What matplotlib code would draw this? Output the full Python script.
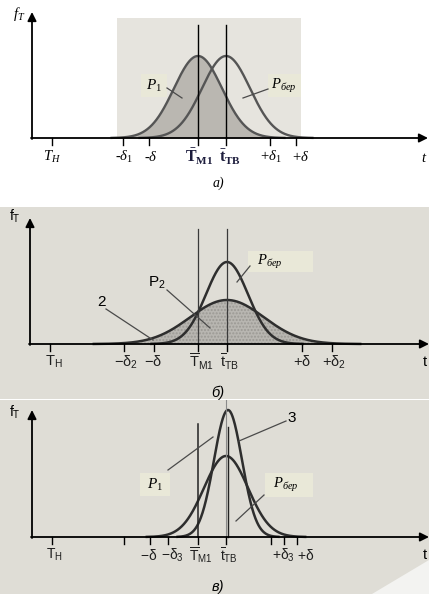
import numpy as np
import matplotlib.pyplot as plt
from matplotlib.patches import Rectangle, Polygon

plt.rcParams['mathtext.fontset'] = 'custom'
plt.rcParams['mathtext.rm'] = 'Liberation Serif'
plt.rcParams['mathtext.it'] = 'Liberation Serif:italic'
plt.rcParams['mathtext.bf'] = 'Liberation Serif:bold'

W, H = 429, 594

# --- panel a: shift of the distribution, same spread
a_ticks = [52, 123, 149, 198, 226, 270, 296]
a_labels = [r'$T_H$', r'-$\delta_1$', r'-$\delta$', r'$\mathbf{\bar{T}_{M1}}$',
            r'$\mathbf{\bar{t}_{TB}}$', r'+$\delta_1$', r'+$\delta$']
a_label_x = [52, 124, 151, 199, 230, 271, 301]
a_means = [198, 226]      # P1, P_бер
a_sigmas = [24, 24]
a_peaks = [82, 82]

# --- panel b: wider spread
b_ticks = [50, 124, 154, 198, 227, 302, 332]
b_labels = [r'$\mathregular{T_H}$', r'$\mathregular{-\delta_2}$', r'$\mathregular{-\delta}$',
            r'$\mathregular{\overline{T}_{M1}}$', r'$\mathregular{\overline{t}_{TB}}$',
            r'$\mathregular{+\delta}$', r'$\mathregular{+\delta_2}$']
b_label_x = [54, 126, 153, 201, 229, 302, 334]
b_means = [227, 227]      # P_бер, P2
b_sigmas = [21, 37]
b_peaks = [82, 44]

# --- panel c: narrower spread
c_ticks = [52, 124, 150, 168, 198, 226, 271, 284, 297]
c_labels = [r'$\mathregular{T_H}$', r'$\mathregular{-\delta}$', r'$\mathregular{-\delta_3}$',
            r'$\mathregular{\overline{T}_{M1}}$', r'$\mathregular{\overline{t}_{TB}}$',
            r'$\mathregular{+\delta_3}$', r'$\mathregular{+\delta}$']
c_label_x = [54, 149, 172, 201, 229, 283, 306]
c_means = [228, 226]      # curve 3, P_бер
c_sigmas = [14, 22]
c_peaks = [127, 81]

PAPER = '#dfddd6'
BOX = '#e9e8d8'
INK = '#2e2e2e'


def panel(top, bot, base):
    ax = fig.add_axes([0, 1 - bot / H, 1, (bot - top) / H])
    ax.set_xlim(0, W)
    ax.set_ylim(base - bot, base - top)
    ax.axis('off')
    return ax


def gauss(mean, sigma, peak):
    x = np.linspace(mean - 3.6 * sigma, mean + 3.6 * sigma, 300)
    return x, peak * np.exp(-0.5 * ((x - mean) / sigma) ** 2)


def axes_lines(ax, x0, ytop, xend, ticks, tick_len=7):
    ax.annotate('', xy=(x0, ytop), xytext=(x0, -1),
                arrowprops=dict(arrowstyle='-|>', mutation_scale=13, lw=1.3, color='k', shrinkA=0, shrinkB=0))
    ax.annotate('', xy=(xend, 0), xytext=(x0 - 1, 0),
                arrowprops=dict(arrowstyle='-|>', mutation_scale=13, lw=1.3, color='k', shrinkA=0, shrinkB=0))
    for t in ticks:
        ax.plot([t, t], [0, -tick_len], color='k', lw=1.0, zorder=3)


def leader(ax, p0, p1, base):
    ax.plot([p0[0], p1[0]], [base - p0[1], base - p1[1]], color='#4a4a4a', lw=0.9, zorder=4)


fig = plt.figure(figsize=(W / 100, H / 100), dpi=100)
fig.patch.set_facecolor('white')

# ---------------- a)
base = 138
ax = panel(0, 200, base)
ax.add_patch(Rectangle((117, 0), 184, 120, facecolor='#e6e4de', edgecolor='none', zorder=0))
x1, y1 = gauss(a_means[0], a_sigmas[0], a_peaks[0])
ax.fill_between(x1, 0, y1, color='#bab7b1', lw=0, zorder=1)
for m, s, p in zip(a_means, a_sigmas, a_peaks):
    x, y = gauss(m, s, p)
    ax.plot(x, y, color='#555555', lw=1.7, zorder=2)
for xv in a_means:
    ax.plot([xv, xv], [0, base - 25], color='k', lw=1.0, zorder=3)
axes_lines(ax, 32, base - 12, 428, a_ticks)
for xl, lab in zip(a_label_x, a_labels):
    bold = 'bar' in lab
    ax.text(xl, -19, lab, ha='center', va='center', fontsize=11.5 if bold else 10.5,
            color='#1c1c3c' if bold else 'k', family='Liberation Serif', zorder=5)
ax.add_patch(Rectangle((141, base - 97), 26, 23, facecolor=BOX, edgecolor='none', zorder=4))
ax.text(154, base - 86, r'$P_1$', ha='center', va='center', fontsize=11, zorder=5)
ax.add_patch(Rectangle((268, base - 97), 33, 23, facecolor=BOX, edgecolor='none', zorder=4))
ax.text(284, base - 86, r'$P_{бер}$', ha='center', va='center', fontsize=10.5, zorder=5)
leader(ax, (167, 88), (182, 98), base)
leader(ax, (268, 89), (243, 98), base)
ax.text(19, base - 14, r'$f_T$', ha='center', va='center', fontsize=10.5, zorder=5)
ax.text(424, -19, r'$t$', ha='center', va='center', fontsize=10.5, zorder=5)
ax.text(218, base - 183, 'a)', ha='center', va='center', fontsize=10,
        family='Liberation Serif', style='italic', zorder=5)

# ---------------- б)
base = 344
ax = panel(200, 400, base)
ax.add_patch(Rectangle((0, base - 399), W, 192, facecolor=PAPER, edgecolor='none', zorder=0))
x2, y2 = gauss(b_means[1], b_sigmas[1], b_peaks[1])
ax.fill_between(x2, 0, y2, facecolor='#b8b6b1', edgecolor='#9b9994', hatch='.....', lw=0, zorder=1)
for m, s, p in zip(b_means, b_sigmas, b_peaks):
    x, y = gauss(m, s, p)
    ax.plot(x, y, color=INK, lw=1.8, zorder=2)
for xv in [198, 227]:
    ax.plot([xv, xv], [0, base - 229], color='#3a3a3a', lw=0.9, zorder=3)
axes_lines(ax, 30, base - 218, 429, b_ticks)
for xl, lab in zip(b_label_x, b_labels):
    ax.text(xl, -18, lab, ha='center', va='center', fontsize=10.5,
            family='Liberation Sans', color='#1e1e1e', zorder=5)
ax.add_patch(Rectangle((248, base - 272), 65, 21, facecolor=BOX, edgecolor='none', zorder=4))
ax.text(270, base - 262, r'$P_{бер}$', ha='center', va='center', fontsize=10.5, zorder=5)
ax.text(157, base - 283, r'$\mathregular{P_2}$', ha='center', va='center', fontsize=11,
        family='Liberation Sans', zorder=5)
ax.text(101, base - 302, '2', ha='center', va='center', fontsize=11, family='Liberation Sans', zorder=5)
leader(ax, (250, 266), (237, 282), base)
leader(ax, (167, 290), (210, 328), base)
leader(ax, (106, 309), (153, 340), base)
ax.text(15, base - 216, r'$\mathregular{f_T}$', ha='center', va='center', fontsize=10,
        family='Liberation Sans', zorder=5)
ax.text(425, -18, 't', ha='center', va='center', fontsize=10.5, family='Liberation Sans', zorder=5)
ax.text(218, base - 393, 'б)', ha='center', va='center', fontsize=10.5,
        family='Liberation Sans', style='italic', zorder=5)

# ---------------- в)
base = 537
ax = panel(400, 594, base)
ax.add_patch(Rectangle((0, base - 594), W, 194, facecolor=PAPER, edgecolor='none', zorder=0))
ax.add_patch(Polygon([(372, base - 594), (429, base - 560), (429, base - 594)],
                     closed=True, facecolor='#f3f3f1', edgecolor='none', zorder=0))
for m, s, p in zip(c_means, c_sigmas, c_peaks):
    x, y = gauss(m, s, p)
    ax.plot(x, y, color=INK, lw=1.8, zorder=2)
ax.plot([198, 198], [0, base - 424], color='#222222', lw=1.1, zorder=3)
ax.plot([226, 226], [0, base - 400], color='#8a8a8a', lw=0.8, zorder=3)
ax.plot([228, 228], [0, base - 427], color='#222222', lw=1.0, zorder=3)
axes_lines(ax, 32, base - 410, 429, c_ticks)
for xl, lab in zip(c_label_x, c_labels):
    ax.text(xl, -18, lab, ha='center', va='center', fontsize=10,
            family='Liberation Sans', color='#1e1e1e', zorder=5)
ax.add_patch(Rectangle((140, base - 496), 30, 23, facecolor=BOX, edgecolor='none', zorder=4))
ax.text(155, base - 485, r'$P_1$', ha='center', va='center', fontsize=11, zorder=5)
ax.add_patch(Rectangle((265, base - 497), 48, 24, facecolor=BOX, edgecolor='none', zorder=4))
ax.text(286, base - 485, r'$P_{бер}$', ha='center', va='center', fontsize=10.5, zorder=5)
ax.text(292, base - 418, '3', ha='center', va='center', fontsize=11, family='Liberation Sans', zorder=5)
leader(ax, (168, 470), (213, 437), base)
leader(ax, (286, 421), (239, 441), base)
leader(ax, (264, 495), (236, 521), base)
ax.text(15, base - 412, r'$\mathregular{f_T}$', ha='center', va='center', fontsize=10,
        family='Liberation Sans', zorder=5)
ax.text(425, -18, 't', ha='center', va='center', fontsize=10.5, family='Liberation Sans', zorder=5)
ax.text(218, base - 587, 'в)', ha='center', va='center', fontsize=10.5,
        family='Liberation Sans', style='italic', zorder=5)

fig.savefig('out.png', dpi=100)
